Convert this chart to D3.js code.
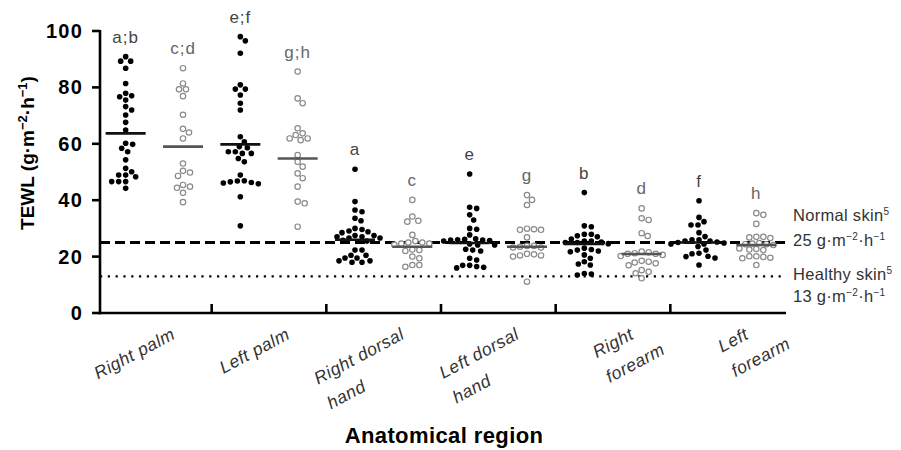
<!DOCTYPE html>
<html>
<head>
<meta charset="utf-8">
<script src="https://cdnjs.cloudflare.com/ajax/libs/d3/7.8.5/d3.min.js"></script>
<style>
body { margin: 0; background: #fff; }
svg text { font-family: "Liberation Sans", Arial, sans-serif; }
</style>
</head>
<body>
<svg id="chart" width="901" height="450"></svg>
<script>
// categories
var regions = ["Right palm", "Left palm", "Right dorsal hand", "Left dorsal hand", "Right forearm", "Left forearm"];
var regionLines = [["Right palm"], ["Left palm"], ["Right dorsal", "hand"], ["Left dorsal", "hand"], ["Right", "forearm"], ["Left", "forearm"]];
var groups = ["filled", "open"];
var lettersFilled = ["a;b", "e;f", "a", "e", "b", "f"];
var lettersOpen = ["c;d", "g;h", "c", "g", "d", "h"];
var yTicks = [0, 20, 40, 60, 80, 100];

// TEWL values (g·m-2·h-1)
var rightPalmFilled = [90.9, 89.3, 89.3, 86.8, 81.4, 77.9, 77.0, 76.7, 75.5, 73.2, 72.0, 70.2, 67.6, 64.9, 60.2, 59.8, 58.4, 57.2, 54.3, 51.3, 50.1, 48.9, 48.3, 48.9, 46.6, 46.6, 46.6, 44.2];
var rightPalmOpen = [86.8, 81.4, 79.3, 79.3, 76.9, 70.3, 65.3, 64.0, 61.9, 53.0, 50.4, 49.8, 48.6, 44.8, 44.4, 45.4, 42.6, 39.3];
var leftPalmFilled = [98.0, 96.5, 92.1, 80.9, 79.4, 79.4, 77.3, 74.4, 72.0, 62.5, 60.7, 59.0, 58.6, 57.2, 56.6, 57.2, 56.6, 54.8, 53.6, 48.9, 46.8, 46.3, 45.8, 46.1, 46.5, 46.9, 41.2, 30.9];
var leftPalmOpen = [85.6, 76.1, 74.4, 65.5, 63.7, 61.3, 61.9, 61.9, 63.1, 56.0, 53.6, 51.9, 49.5, 47.8, 44.8, 39.5, 38.9, 30.6];
var rightDorsalFilled = [51.0, 39.5, 36.5, 35.9, 33.6, 32.7, 30.0, 29.6, 29.1, 28.8, 28.5, 27.5, 27.0, 26.6, 26.6, 27.0, 27.5, 25.8, 25.5, 22.3, 22.3, 20.5, 19.5, 18.5, 18.0, 18.0, 18.5, 19.5, 20.5];
var rightDorsalOpen = [40.1, 34.2, 32.7, 32.4, 27.7, 25.5, 25.0, 24.6, 24.6, 25.0, 24.2, 22.5, 22.3, 22.0, 20.0, 19.4, 17.0, 16.4, 17.0];
var leftDorsalFilled = [49.3, 37.5, 37.1, 34.8, 33.0, 30.0, 29.7, 27.7, 25.9, 26.1, 26.3, 25.5, 25.9, 25.7, 26.0, 24.1, 24.5, 24.1, 22.3, 22.6, 22.0, 19.4, 18.8, 16.9, 16.5, 16.0, 16.2, 16.9];
var leftDorsalOpen = [41.8, 40.1, 38.3, 29.5, 29.7, 29.9, 29.5, 26.8, 23.8, 23.2, 23.5, 23.2, 23.8, 20.8, 20.4, 20.0, 20.4, 21.0, 11.1];
var rightForearmFilled = [42.7, 30.9, 30.6, 27.9, 27.0, 27.4, 27.9, 26.2, 25.5, 25.2, 25.5, 25.0, 24.6, 25.0, 22.5, 22.0, 22.3, 23.0, 21.7, 20.6, 19.4, 18.2, 17.4, 17.0, 13.5, 13.8, 14.0];
var rightForearmOpen = [37.1, 33.6, 33.0, 28.3, 27.3, 21.8, 21.2, 21.0, 21.0, 21.5, 20.6, 20.2, 18.5, 16.9, 17.6, 17.9, 18.2, 15.2, 14.6, 14.1, 12.3];
var leftForearmFilled = [39.8, 33.9, 32.4, 31.2, 31.2, 28.5, 27.1, 26.0, 25.5, 24.5, 23.6, 24.5, 25.5, 26.0, 25.0, 24.8, 25.2, 22.3, 21.2, 20.1, 19.5, 20.0, 21.0, 17.0];
var leftForearmOpen = [35.4, 34.8, 31.6, 27.0, 26.8, 26.6, 27.0, 24.8, 24.4, 24.1, 24.6, 24.4, 22.7, 22.3, 22.5, 22.9, 20.1, 19.9, 19.4, 20.1, 19.6, 17.0];

// mean bars as drawn
var meanFilled = [63.7, 59.8, 26.0, 24.8, 24.5, 25.0];
var meanOpen = [59.0, 54.8, 23.5, 23.5, 20.9, 24.1];

// reference lines
var refValues = [25, 13];

var filledSeries = [rightPalmFilled, leftPalmFilled, rightDorsalFilled, leftDorsalFilled, rightForearmFilled, leftForearmFilled];
var openSeries = [rightPalmOpen, leftPalmOpen, rightDorsalOpen, leftDorsalOpen, rightForearmOpen, leftForearmOpen];

var svg = d3.select("#chart");

var x0 = d3.scaleBand().domain(regions).range([97, 785]);
var x1 = d3.scalePoint().domain(groups).range([0, x0.bandwidth()]).padding(0.5);
var y = d3.scaleLinear().domain([0, 100]).range([313, 31]);

var axisLeft = 100, axisRight = 786;

// reference lines
svg.append("line")
    .attr("x1", axisLeft).attr("x2", 789)
    .attr("y1", y(refValues[0])).attr("y2", y(refValues[0]))
    .attr("stroke", "#000").attr("stroke-width", 2.8)
    .attr("stroke-dasharray", "10,5");

svg.append("line")
    .attr("x1", axisLeft).attr("x2", 786)
    .attr("y1", y(refValues[1])).attr("y2", y(refValues[1]))
    .attr("stroke", "#000").attr("stroke-width", 2.2)
    .attr("stroke-dasharray", "2.2,5.6");

// simple beeswarm so that close values spread sideways
function swarm(values, cx, diam) {
    var placed = [];
    values.slice().sort(function(a, b) { return b - a; }).forEach(function(v) {
        var py = y(v), k = 0, px;
        while (true) {
            var off = k === 0 ? 0 : (k % 2 ? Math.ceil(k / 2) : -k / 2);
            px = cx + off;
            var hit = placed.some(function(p) {
                var dx = p.x - px, dy = p.y - py;
                return dx * dx + dy * dy < diam * diam;
            });
            if (!hit) break;
            k++;
        }
        placed.push({x: px, y: py, v: v});
    });
    return placed;
}

regions.forEach(function(reg, i) {
    var cxF = x0(reg) + x1("filled"),
        cxO = x0(reg) + x1("open");

    swarm(openSeries[i], cxO, 6.6).forEach(function(p) {
        svg.append("circle")
            .attr("cx", p.x).attr("cy", p.y).attr("r", 2.7)
            .attr("fill", "#fff").attr("stroke", "#8a8a8a").attr("stroke-width", 1.2);
    });
    swarm(filledSeries[i], cxF, 6.4).forEach(function(p) {
        svg.append("circle")
            .attr("cx", p.x).attr("cy", p.y).attr("r", 2.8)
            .attr("fill", "#000");
    });

    svg.append("line")
        .attr("x1", cxF - 20).attr("x2", cxF + 20)
        .attr("y1", y(meanFilled[i])).attr("y2", y(meanFilled[i]))
        .attr("stroke", "#111").attr("stroke-width", 2.6);
    svg.append("line")
        .attr("x1", cxO - 20).attr("x2", cxO + 20)
        .attr("y1", y(meanOpen[i])).attr("y2", y(meanOpen[i]))
        .attr("stroke", "#555").attr("stroke-width", 2.6);

    svg.append("text")
        .attr("x", cxF).attr("y", y(d3.max(filledSeries[i])) - 14)
        .attr("text-anchor", "middle")
        .attr("font-size", 17).attr("letter-spacing", 1)
        .attr("fill", "#444")
        .text(lettersFilled[i]);
    svg.append("text")
        .attr("x", cxO).attr("y", y(d3.max(openSeries[i])) - 14)
        .attr("text-anchor", "middle")
        .attr("font-size", 17).attr("letter-spacing", 1)
        .attr("fill", "#666")
        .text(lettersOpen[i]);
});

// y axis
svg.append("line")
    .attr("x1", axisLeft).attr("x2", axisLeft)
    .attr("y1", y(100) - 1).attr("y2", y(0) + 1.3)
    .attr("stroke", "#000").attr("stroke-width", 2.6);

yTicks.forEach(function(t) {
    svg.append("line")
        .attr("x1", axisLeft - 8).attr("x2", axisLeft)
        .attr("y1", y(t)).attr("y2", y(t))
        .attr("stroke", "#000").attr("stroke-width", 2.6);
    svg.append("text")
        .attr("x", axisLeft - 17).attr("y", y(t) + 7)
        .attr("text-anchor", "end")
        .attr("font-size", 20).attr("font-weight", "bold")
        .attr("letter-spacing", 1.2)
        .text(t);
});

// x axis
svg.append("line")
    .attr("x1", axisLeft - 1.3).attr("x2", axisRight)
    .attr("y1", y(0)).attr("y2", y(0))
    .attr("stroke", "#000").attr("stroke-width", 2.6);

regions.slice(1).forEach(function(reg) {
    svg.append("line")
        .attr("x1", x0(reg)).attr("x2", x0(reg))
        .attr("y1", y(0)).attr("y2", y(0) - 9)
        .attr("stroke", "#000").attr("stroke-width", 2.6);
});

// category labels, rotated; first line ends near the group, next lines left-aligned to it
regions.forEach(function(reg, i) {
    var cx = x0(reg) + x0.bandwidth() / 2 + 22;
    var t = svg.append("text")
        .attr("transform", "translate(" + cx + ",338) rotate(-28)")
        .attr("font-size", 17.5).attr("font-style", "italic")
        .attr("letter-spacing", 0.5)
        .attr("fill", "#333");
    var spans = regionLines[i].map(function(line, j) {
        return t.append("tspan").attr("dy", j === 0 ? 0 : 28).text(line);
    });
    var w = spans[0].node().getComputedTextLength();
    spans.forEach(function(s) { s.attr("x", -w); });
});

// axis titles
svg.append("text")
    .attr("x", 444).attr("y", 443)
    .attr("text-anchor", "middle")
    .attr("font-size", 22).attr("font-weight", "bold")
    .attr("letter-spacing", 0.4)
    .text("Anatomical region");

var yl = svg.append("text")
    .attr("transform", "translate(34," + 153 + ") rotate(-90)")
    .attr("text-anchor", "middle")
    .attr("font-size", 19).attr("font-weight", "bold");
yl.append("tspan").text("TEWL (g·m");
yl.append("tspan").attr("dy", -7).attr("font-size", 13).text("−2");
yl.append("tspan").attr("dy", 7).text("·h");
yl.append("tspan").attr("dy", -7).attr("font-size", 13).text("−1");
yl.append("tspan").attr("dy", 7).text(")");

// reference line labels
function unitLabel(val, yy) {
    var t = svg.append("text")
        .attr("x", 793).attr("y", yy)
        .attr("font-size", 16.5).attr("letter-spacing", 0.3).attr("fill", "#333");
    t.append("tspan").text(val + " g·m");
    t.append("tspan").attr("dy", -6).attr("font-size", 10).text("−2");
    t.append("tspan").attr("dy", 6).text("·h");
    t.append("tspan").attr("dy", -6).attr("font-size", 10).text("−1");
}
function skinLabel(txt, yy) {
    var t = svg.append("text")
        .attr("x", 793).attr("y", yy)
        .attr("font-size", 16.5).attr("letter-spacing", 0.3).attr("fill", "#333");
    t.append("tspan").text(txt);
    t.append("tspan").attr("dy", -6).attr("font-size", 10).text("5");
}
skinLabel("Normal skin", y(refValues[0]) - 22);
unitLabel(refValues[0], y(refValues[0]) + 3);
skinLabel("Healthy skin", y(refValues[1]) + 4);
unitLabel(refValues[1], y(refValues[1]) + 26);
</script>
</body>
</html>
